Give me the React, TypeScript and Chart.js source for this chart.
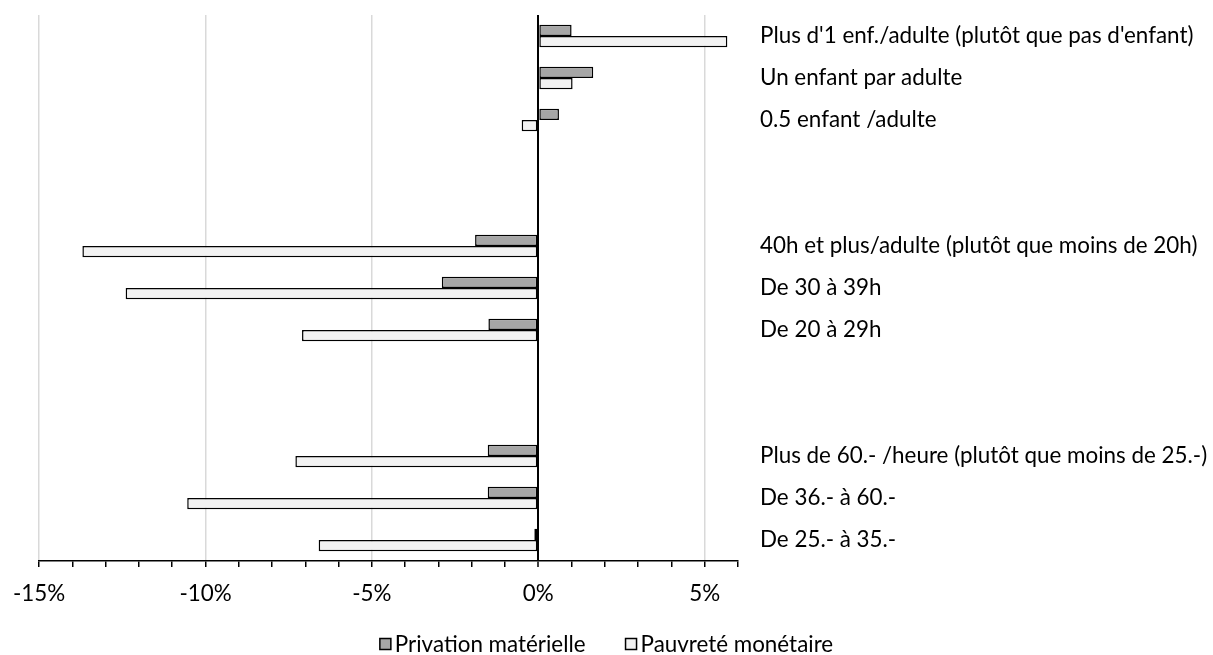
import React, { useEffect, useRef } from "react";
import { Chart, registerables } from "chart.js";

Chart.register(...registerables);

const categories: string[] = [
  "Plus d'1 enf./adulte (plutôt que pas d'enfant)",
  "Un enfant par adulte",
  "0.5 enfant /adulte",
  "",
  "",
  "40h et plus/adulte (plutôt que moins de 20h)",
  "De 30 à 39h",
  "De 20 à 29h",
  "",
  "",
  "Plus de 60.- /heure (plutôt que moins de 25.-)",
  "De 36.- à 60.-",
  "De 25.- à 35.-",
];

const privationMaterielle: (number | null)[] = [1.0, 1.65, 0.62, null, null, -1.9, -2.9, -1.5, null, null, -1.52, -1.52, -0.12];
const pauvreteMonetaire: (number | null)[] = [5.68, 1.03, -0.5, null, null, -13.7, -12.4, -7.1, null, null, -7.3, -10.55, -6.6];

const seriesLabels = ["Privation matérielle", "Pauvreté monétaire"];
const xMin = -15;
const xMax = 6;
const majorStep = 5;

const FONT = "Lato";
const FS = 22.4;

const legendPlugin = {
  id: "customLegend",
  afterDraw(chart: any) {
    const ctx = chart.ctx as CanvasRenderingContext2D;
    ctx.save();
    ctx.font = `${FS}px ${FONT}`;
    const items = chart.data.datasets.map((ds: any) => ({ text: ds.label as string, fill: ds.backgroundColor as string }));
    const box = 11;
    const gap = 4;
    const spacing = 40;
    const widths = items.map((it: any) => ctx.measureText(it.text).width);
    const total = widths.reduce((a: number, w: number) => a + box + gap + w, 0) + spacing * (items.length - 1);
    let x = chart.width / 2 - total / 2;
    const yc = 644;
    items.forEach((it: any, i: number) => {
      ctx.fillStyle = it.fill;
      ctx.fillRect(x, yc - box / 2, box, box);
      ctx.strokeStyle = "#000";
      ctx.lineWidth = 1.5;
      ctx.strokeRect(x, yc - box / 2, box, box);
      ctx.fillStyle = "#000";
      ctx.textBaseline = "middle";
      ctx.textAlign = "left";
      ctx.fillText(it.text, x + box + gap, yc + 1);
      x += box + gap + widths[i] + spacing;
    });
    ctx.restore();
  },
};

export default function App() {
  const ref = useRef<HTMLCanvasElement | null>(null);

  useEffect(() => {
    if (!ref.current) return;
    const chart = new Chart(ref.current, {
      type: "bar",
      data: {
        labels: categories,
        datasets: [
          {
            label: seriesLabels[0],
            data: privationMaterielle,
            backgroundColor: "#a6a6a6",
            borderColor: "#000000",
            borderWidth: 1.5,
            borderSkipped: false,
          },
          {
            label: seriesLabels[1],
            data: pauvreteMonetaire,
            backgroundColor: "#f2f2f2",
            borderColor: "#000000",
            borderWidth: 1.5,
            borderSkipped: false,
          },
        ],
      },
      options: {
        indexAxis: "y",
        responsive: false,
        animation: false,
        layout: { padding: { left: 36, top: 15, right: 0, bottom: 0 } },
        datasets: { bar: { categoryPercentage: 0.54, barPercentage: 1 } },
        plugins: {
          legend: { display: false },
          tooltip: { enabled: false },
        },
        scales: {
          x: {
            type: "linear",
            position: "bottom",
            min: xMin,
            max: xMax,
            afterFit: (scale: any) => {
              scale.height = 94;
            },
            ticks: {
              stepSize: 1,
              autoSkip: false,
              maxRotation: 0,
              padding: 13,
              color: "#000",
              font: { family: FONT, size: FS },
              callback: (v: any) => (Number(v) % majorStep === 0 ? `${v}%` : ""),
            },
            grid: {
              drawTicks: true,
              tickLength: 6,
              color: (c: any) => {
                const v = c.tick ? c.tick.value : 0;
                if (v === 0) return "#000";
                if (v % majorStep === 0) return "#d9d9d9";
                return "rgba(0,0,0,0)";
              },
              lineWidth: (c: any) => (c.tick && c.tick.value === 0 ? 2 : 1.5),
              tickColor: "#000",
              tickWidth: 1.5,
            },
            border: { display: true, color: "#000", width: 1.5 },
          },
          y: {
            type: "category",
            position: "right",
            afterFit: (scale: any) => {
              scale.width = 475;
              scale.paddingTop = 0;
              scale.paddingBottom = 0;
            },
            ticks: {
              padding: 22,
              color: "#000",
              autoSkip: false,
              font: { family: FONT, size: FS },
            },
            grid: { display: false, drawTicks: false },
            border: { display: false },
          },
        },
      },
      plugins: [legendPlugin],
    } as any);
    return () => chart.destroy();
  }, []);

  return (
    <div style={{ position: "fixed", left: 0, top: 0, width: 1213, height: 655, background: "#fff" }}>
      <canvas ref={ref} width={1213} height={655} style={{ width: 1213, height: 655 }} />
    </div>
  );
}
